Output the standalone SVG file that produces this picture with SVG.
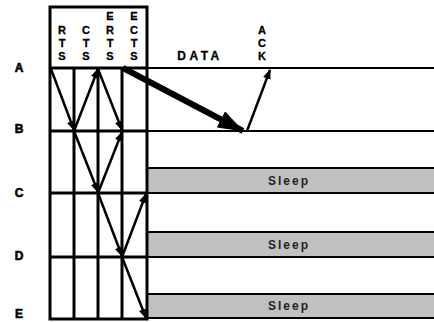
<svg xmlns="http://www.w3.org/2000/svg" width="434" height="322" viewBox="0 0 434 322">
<style>
.lbl{font-family:"Liberation Sans",Arial,sans-serif;font-weight:bold;font-size:12px;fill:#000;stroke:#000;stroke-width:0.6;text-anchor:middle;dominant-baseline:central}
.col{font-family:"Liberation Sans",Arial,sans-serif;font-weight:bold;font-size:11px;fill:#000;stroke:#000;stroke-width:0.3;text-anchor:middle;dominant-baseline:central}
.sl{font-family:"Liberation Sans",Arial,sans-serif;font-weight:bold;font-size:12px;fill:#222;text-anchor:middle;dominant-baseline:central;letter-spacing:2px}
.grid{stroke:#000;stroke-width:3;fill:none}
.hl{stroke:#000;stroke-width:2;fill:none}
.sleep{fill:#c0c0c0;stroke:#000;stroke-width:2}
.arr{stroke:#000;stroke-width:2.5;fill:none;marker-end:url(#ah)}
</style>
<defs>
<marker id="ah" markerWidth="10" markerHeight="8" refX="9" refY="4" orient="auto" markerUnits="userSpaceOnUse"><path d="M0,0 L10,4 L0,8 Z" fill="#000"/></marker>
<marker id="big" markerWidth="26" markerHeight="18" refX="25" refY="9" orient="auto" markerUnits="userSpaceOnUse"><path d="M0,0 L26,9 L0,18 Z" fill="#000"/></marker>
</defs>
<rect width="434" height="322" fill="#fff"/>
<g id="sleep-c"><rect class="sleep" x="147" y="168" width="290" height="25"/><text class="sl" x="289" y="181">Sleep</text></g>
<g id="sleep-d"><rect class="sleep" x="147" y="232" width="290" height="25"/><text class="sl" x="289" y="245">Sleep</text></g>
<g id="sleep-e"><rect class="sleep" x="147" y="294" width="290" height="24"/><text class="sl" x="289" y="306">Sleep</text></g>
<g id="grid">
<rect class="grid" x="50" y="7" width="97" height="312"/>
<line class="grid" x1="74" y1="68" x2="74" y2="319"/>
<line class="grid" x1="98" y1="68" x2="98" y2="319"/>
<line class="grid" x1="122" y1="68" x2="122" y2="319"/>
<line class="grid" x1="50" y1="68" x2="147" y2="68"/>
<line class="grid" x1="50" y1="131" x2="147" y2="131"/>
<line class="grid" x1="50" y1="193" x2="147" y2="193"/>
<line class="grid" x1="50" y1="257" x2="147" y2="257"/>
<line class="hl" x1="147" y1="68" x2="434" y2="68"/>
<line class="hl" x1="147" y1="131" x2="434" y2="131"/>
</g>
<g id="nodes">
<g id="node-A"><text class="lbl" x="19" y="68">A</text></g>
<g id="node-B"><text class="lbl" x="19" y="129">B</text></g>
<g id="node-C"><text class="lbl" x="19" y="193">C</text></g>
<g id="node-D"><text class="lbl" x="19" y="256">D</text></g>
<g id="node-E"><text class="lbl" x="19" y="314">E</text></g>
</g>
<g id="headers">
<text class="col" x="62" y="30">R</text><text class="col" x="62" y="43">T</text><text class="col" x="62" y="56">S</text>
<text class="col" x="86" y="30">C</text><text class="col" x="86" y="43">T</text><text class="col" x="86" y="56">S</text>
<text class="col" x="110" y="16">E</text><text class="col" x="110" y="30">R</text><text class="col" x="110" y="43">T</text><text class="col" x="110" y="56">S</text>
<text class="col" x="134" y="16">E</text><text class="col" x="134" y="30">C</text><text class="col" x="134" y="43">T</text><text class="col" x="134" y="56">S</text>
<text class="lbl" x="200" y="56" style="letter-spacing:3.5px;stroke-width:0.3">DATA</text>
<text class="col" x="262" y="30">A</text><text class="col" x="262" y="43">C</text><text class="col" x="262" y="56">K</text>
</g>
<g id="connectors">
<line class="arr" x1="51" y1="69" x2="74" y2="130"/>
<line class="arr" x1="74" y1="131" x2="98" y2="69"/>
<line class="arr" x1="98" y1="69" x2="122" y2="130"/>
<line class="arr" x1="74" y1="131" x2="98" y2="192"/>
<line class="arr" x1="98" y1="193" x2="122" y2="132"/>
<line class="arr" x1="98" y1="193" x2="122" y2="256"/>
<line class="arr" x1="122" y1="257" x2="146" y2="194"/>
<line class="arr" x1="122" y1="257" x2="146" y2="318"/>
<line stroke="#000" stroke-width="6" x1="123" y1="68" x2="243" y2="131" marker-end="url(#big)"/>
<line class="arr" x1="247" y1="131" x2="270" y2="70"/>
</g>
</svg>
